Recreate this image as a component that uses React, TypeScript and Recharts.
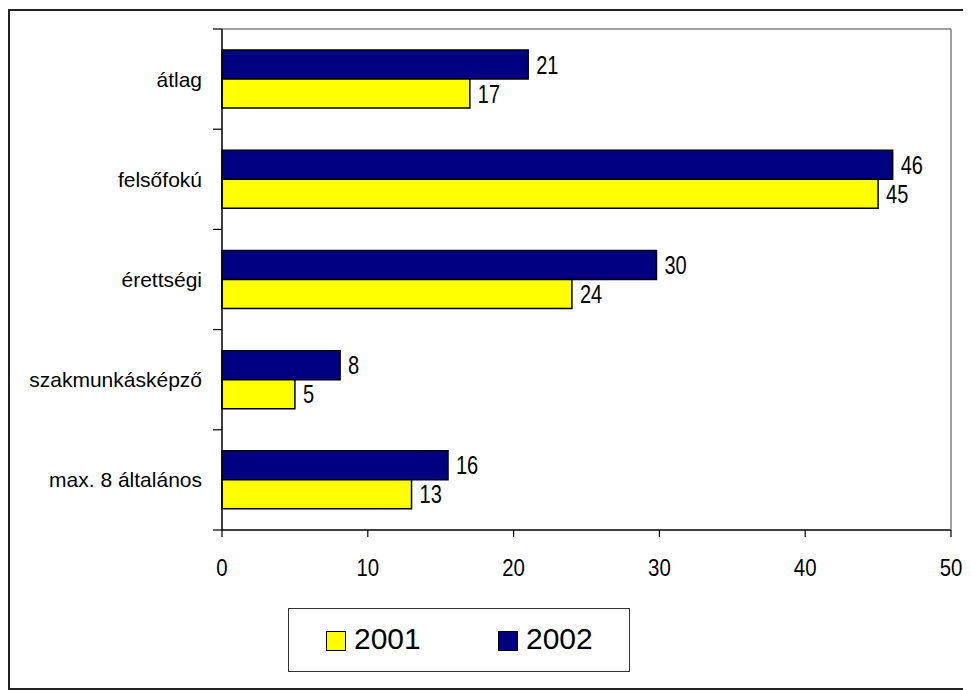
import { Bar, BarChart, LabelList, XAxis, YAxis } from "recharts";

const categories = [
  "átlag",
  "felsőfokú",
  "érettségi",
  "szakmunkásképző",
  "max. 8 általános",
];
const values2001 = [17, 45, 24, 5, 13];
const values2002 = [21, 46, 29.8, 8.1, 15.5];
const xTicks = [0, 10, 20, 30, 40, 50];

const FONT = "'Liberation Sans', Arial, sans-serif";
const NAVY = "#000080";
const YELLOW = "#FFFF00";

const chartData = categories.map((name, i) => ({
  name,
  y2001: values2001[i],
  y2002: values2002[i],
}));

// the original uses a narrow face; squeeze Liberation Sans horizontally
const narrow = (x: number, y: number, sx: number) =>
  `translate(${x},${y}) scale(${sx},1) translate(${-x},${-y})`;

const XTick = (props: any) => {
  const { x, y, payload } = props;
  return (
    <text
      x={x}
      y={y}
      dy="0.71em"
      textAnchor="middle"
      fontSize={24}
      fontFamily={FONT}
      fill="#000"
      transform={narrow(x, y, 0.85)}
    >
      {payload.value}
    </text>
  );
};

// category label at band centre, tick marks on the band edges (Excel style)
const YTick = (props: any) => {
  const { x, y, payload, index, visibleTicksCount } = props;
  const half = Number(payload.offset) || 0;
  const axisX = x + 20;
  const last = index === visibleTicksCount - 1;
  return (
    <g>
      <line x1={axisX - 9} x2={axisX} y1={y - half} y2={y - half} stroke="#000" strokeWidth={1.2} />
      {last && (
        <line x1={axisX - 9} x2={axisX} y1={y + half} y2={y + half} stroke="#000" strokeWidth={1.2} />
      )}
      <text x={x} y={y} dy="0.36em" textAnchor="end" fontSize={21} fontFamily={FONT} fill="#000">
        {payload.value}
      </text>
    </g>
  );
};

const ValueLabel = (props: any) => {
  const { x, y, width, height, value } = props;
  const tx = Number(x) + Number(width) + 8;
  const ty = Number(y) + Number(height) / 2;
  return (
    <text
      x={tx}
      y={ty}
      dy="0.36em"
      textAnchor="start"
      fontSize={25}
      fontFamily={FONT}
      fill="#000"
      transform={narrow(tx, ty, 0.8)}
    >
      {Math.round(Number(value))}
    </text>
  );
};

const LegendItem = ({ color, label, left }: { color: string; label: string; left: number }) => (
  <>
    <div
      style={{
        position: "absolute",
        left,
        top: 22,
        width: 20,
        height: 20,
        boxSizing: "border-box",
        background: color,
        border: "1.5px solid #000",
      }}
    />
    <div
      style={{
        position: "absolute",
        left: left + 28,
        top: 12,
        fontSize: 30,
        lineHeight: "36px",
        fontFamily: FONT,
        color: "#000",
      }}
    >
      {label}
    </div>
  </>
);

export default function App() {
  return (
    <div
      style={{
        position: "relative",
        width: 961,
        height: 681,
        marginTop: 1,
        boxSizing: "border-box",
        border: "2px solid #222",
        background: "#fff",
      }}
    >
      <div style={{ position: "absolute", left: 0, top: 0 }}>
        <BarChart
          width={957}
          height={677}
          data={chartData}
          layout="vertical"
          barCategoryGap="21%"
          barGap={0}
          margin={{ top: 17, right: 15, left: 0, bottom: 108 }}
        >
          <XAxis
            xAxisId="top"
            orientation="top"
            type="number"
            domain={[0, 50]}
            height={1}
            tick={false}
            tickLine={false}
            axisLine={{ stroke: "#808080", strokeWidth: 1.5 }}
          />
          <XAxis
            type="number"
            domain={[0, 50]}
            ticks={xTicks}
            height={50}
            tickSize={7}
            tickMargin={22}
            axisLine={{ stroke: "#000", strokeWidth: 1.5 }}
            tickLine={{ stroke: "#000", strokeWidth: 1.2 }}
            tick={<XTick />}
          />
          <YAxis
            type="category"
            dataKey="name"
            width={212}
            tickSize={0}
            tickMargin={20}
            interval={0}
            tickLine={false}
            axisLine={{ stroke: "#000", strokeWidth: 1.5 }}
            tick={<YTick />}
          />
          <YAxis
            yAxisId="right"
            orientation="right"
            type="number"
            domain={[0, 5]}
            width={1}
            tick={false}
            tickLine={false}
            axisLine={{ stroke: "#808080", strokeWidth: 1.5 }}
          />
          <Bar
            dataKey="y2002"
            fill={NAVY}
            stroke="#000"
            strokeWidth={1.5}
            isAnimationActive={false}
          >
            <LabelList dataKey="y2002" content={<ValueLabel />} />
          </Bar>
          <Bar
            dataKey="y2001"
            fill={YELLOW}
            stroke="#000"
            strokeWidth={1.5}
            isAnimationActive={false}
          >
            <LabelList dataKey="y2001" content={<ValueLabel />} />
          </Bar>
        </BarChart>
      </div>
      <div
        style={{
          position: "absolute",
          left: 278,
          top: 597,
          width: 342,
          height: 64,
          boxSizing: "border-box",
          border: "1.5px solid #333",
          background: "#fff",
        }}
      >
        <LegendItem color={YELLOW} label="2001" left={37} />
        <LegendItem color={NAVY} label="2002" left={209} />
      </div>
    </div>
  );
}
